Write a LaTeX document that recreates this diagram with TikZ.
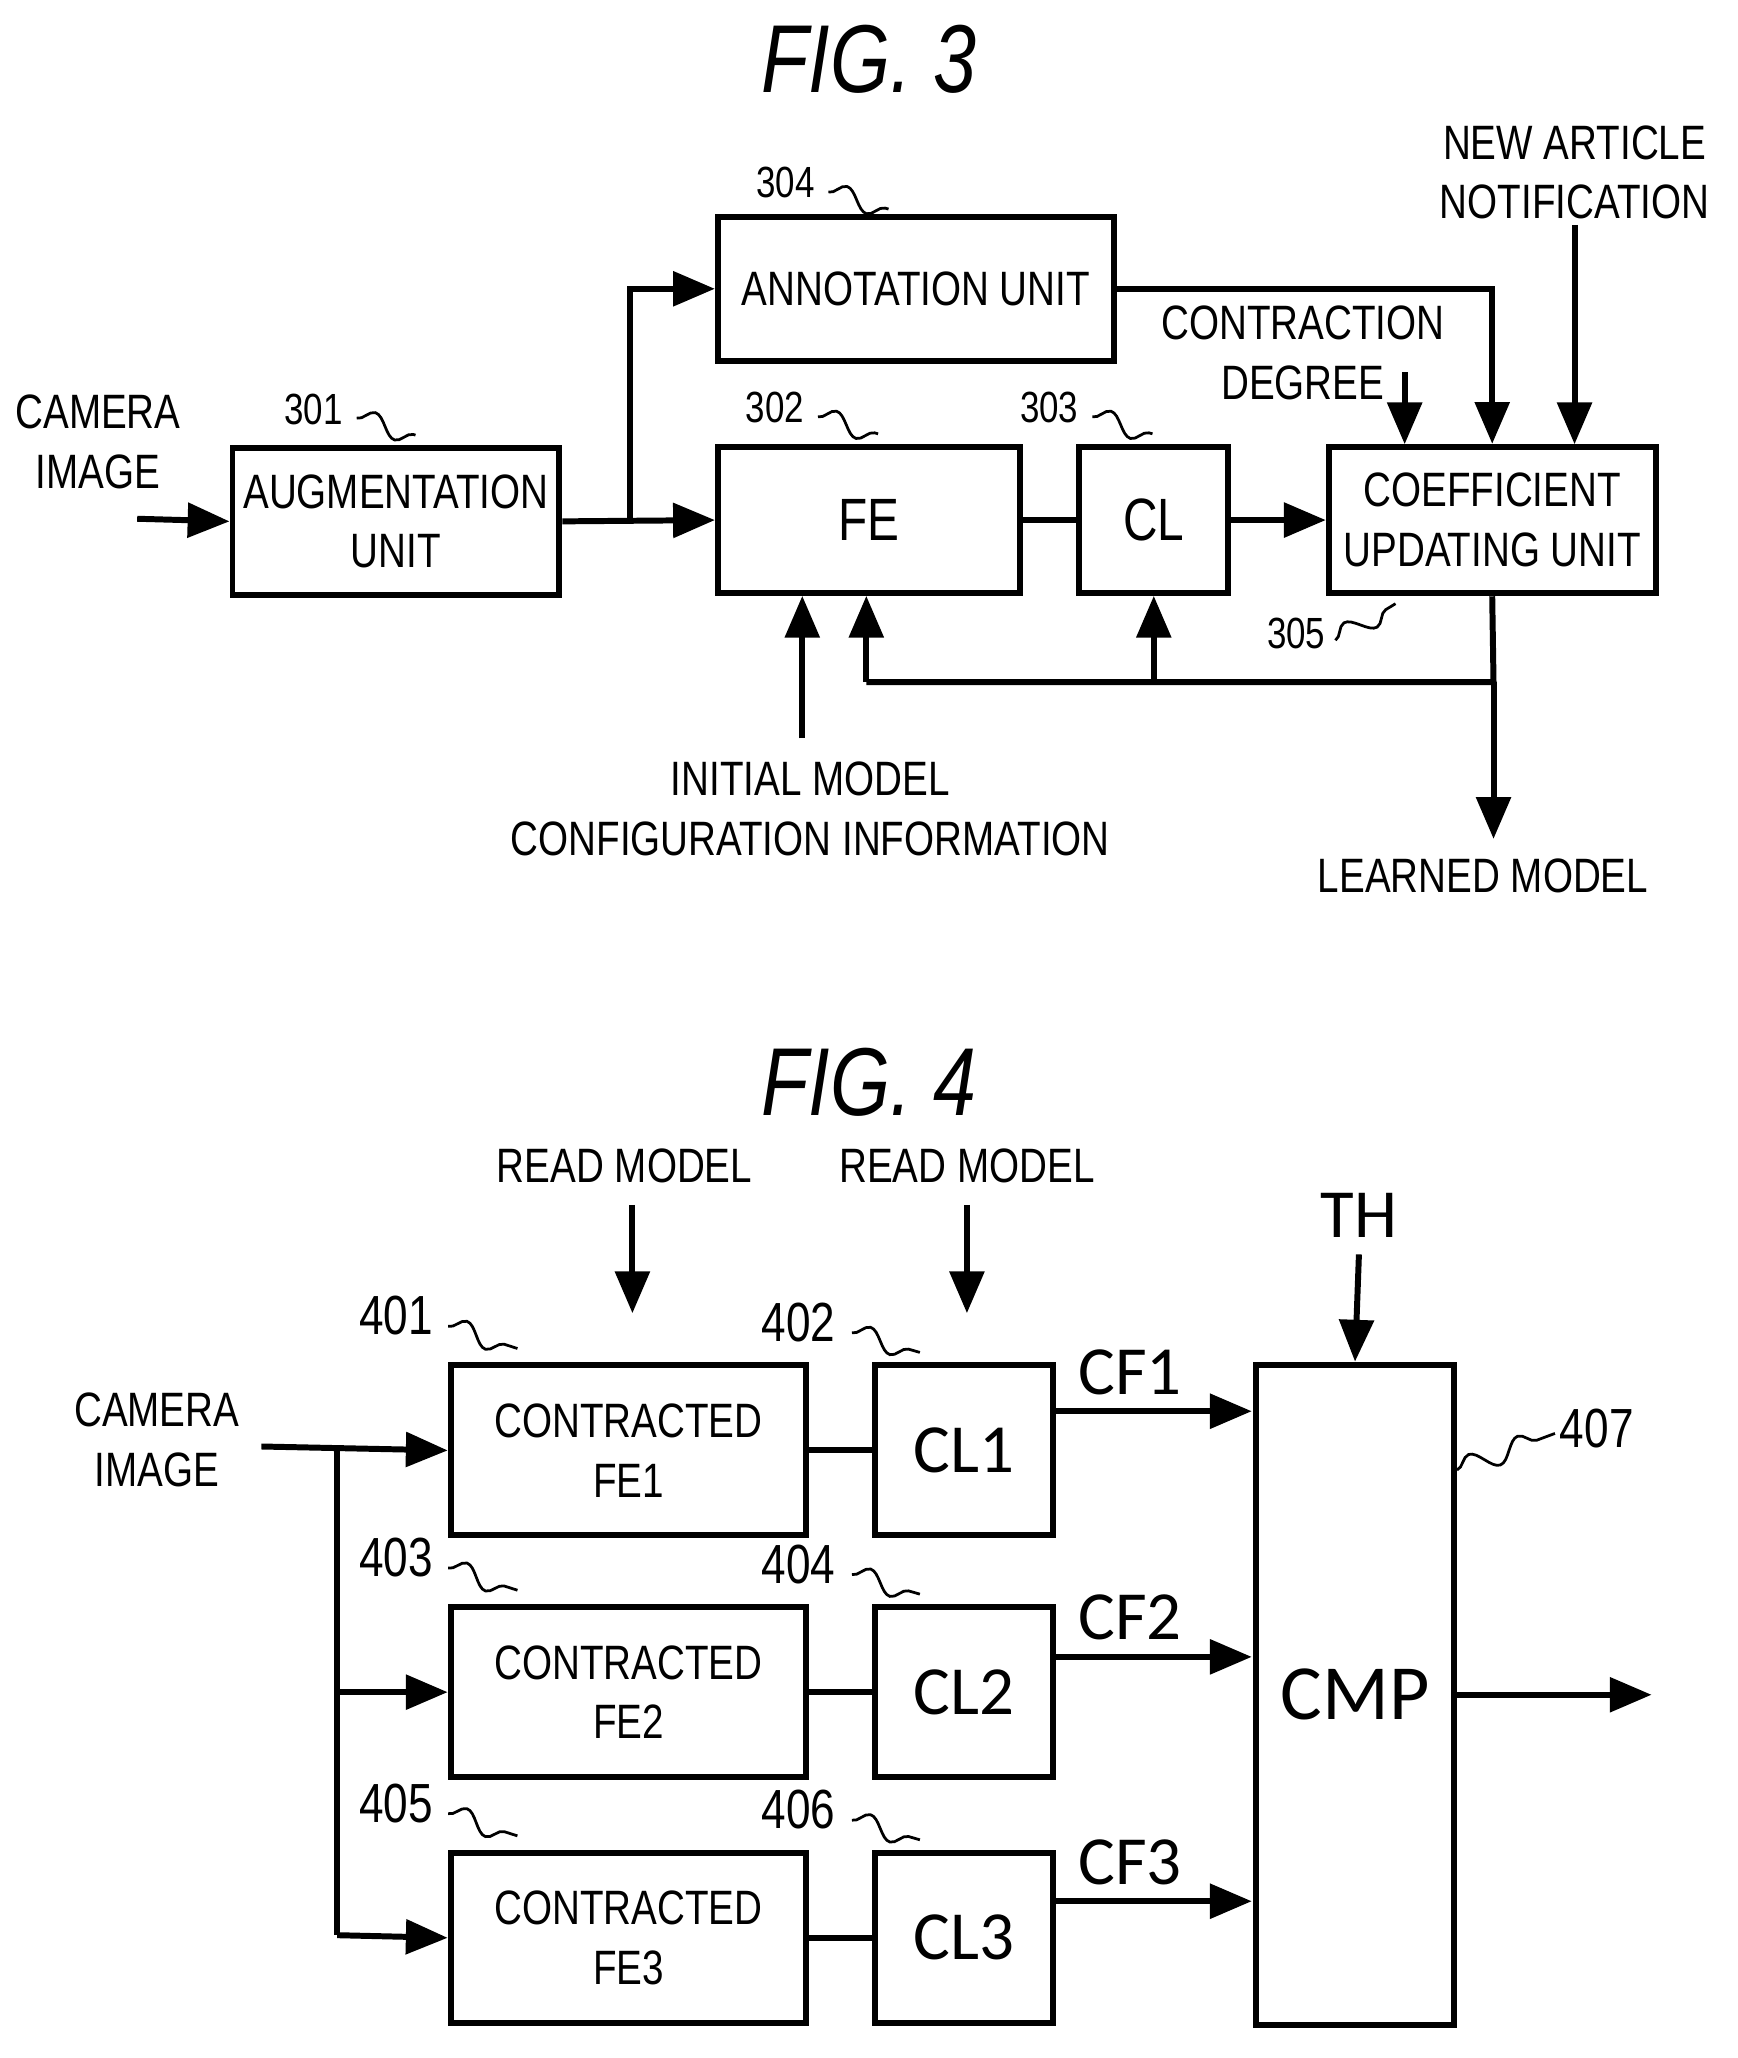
\documentclass[tikz,border=0pt]{standalone}
\usepackage{fontspec}
\setmainfont{Liberation Sans}[FakeStretch=0.8]
\newfontfamily\clfont{Carlito}
\usetikzlibrary{arrows.meta,decorations.pathmorphing}
\tikzset{
  box/.style={draw, line width=1.3pt, align=center, inner sep=0pt, font=\fontsize{10.5}{13}\selectfont},
  wire/.style={line width=1.3pt},
  arr/.style={wire, -{Triangle[length=3.2mm,width=2.6mm]}},
  lbl/.style={align=center, font=\fontsize{10.5}{13}\selectfont},
  num/.style={font=\fontsize{9.5}{12}\selectfont},
  big/.style={font=\clfont\fontsize{15}{18}\selectfont},
  title/.style={font=\itshape\fontsize{21}{24}\selectfont},
  squig/.style={decorate, decoration={snake, segment length=4mm, amplitude=0.8mm}, line width=0.6pt}
}
\begin{document}
\begin{tikzpicture}[x=0.01cm, y=-0.01cm]
\useasboundingbox (0,0) rectangle (1330,1575);

% FIG. 3
\node[title] (t3) at (665,45) {FIG. 3};
\node[box, minimum width=2.5cm, minimum height=1.12cm] (aug) at (303,399) {AUGMENTATION\\UNIT};
\node[box, minimum width=3.03cm, minimum height=1.1cm] (ann) at (701,221) {ANNOTATION UNIT};
\node[box, font=\fontsize{13}{15}\selectfont, minimum width=2.31cm, minimum height=1.12cm] (fe) at (665,398) {FE};
\node[box, font=\fontsize{13}{15}\selectfont, minimum width=1.14cm, minimum height=1.12cm] (cl) at (883,398) {CL};
\node[box, minimum width=2.5cm, minimum height=1.12cm] (coef) at (1142,398) {COEFFICIENT\\UPDATING UNIT};

\node[lbl] (cam) at (75,338) {CAMERA\\IMAGE};
\node[lbl] (cdeg) at (997,270) {CONTRACTION\\DEGREE};
\node[lbl] (news) at (1205,132) {NEW ARTICLE\\NOTIFICATION};
\node[lbl] (init) at (620,619) {INITIAL MODEL\\CONFIGURATION INFORMATION};
\node[lbl] (lm) at (1135,670) {LEARNED MODEL};

\node[num] (n301) at (240,313) {301};
\node[num] (n304) at (601,140) {304};
\node[num] (n302) at (593,312) {302};
\node[num] (n303) at (803,312) {303};
\node[num] (n305) at (992,485) {305};
\draw[squig] (273,320) -- (318,333);
\draw[squig] (634,147) -- (680,160);
\draw[squig] (626,319) -- (672,332);
\draw[squig] (836,319) -- (882,332);
\draw[squig] (1022,490) -- (1068,462);

\coordinate (camin) at (105,397);
\coordinate (br3) at (482,399);
\coordinate (fb) at (1143,522);
\coordinate (initin) at (614,565);
\draw[arr] (camin) -- (aug.west);
\draw[arr] (aug.east) -- (fe.west);
\draw[arr] (br3) |- (ann.west);
\draw[wire] (fe.east) -- (cl.west);
\draw[arr] (cl.east) -- (coef.west);
\draw[arr] (ann.east) -| (coef.north);
\draw[arr] (1075,285) -- (1075,340);
\draw[arr] (1205,172) -- (1205,340);
\draw[wire] (coef.south) -- (fb) -- (663,522);
\draw[arr] (663,522) -- (663,456);
\draw[arr] (883,522) -- (883,456);
\draw[arr] (fb) -- (1143,642);
\draw[arr] (initin) -- (614,456);

% FIG. 4
\node[title] (t4) at (665,828) {FIG. 4};
\foreach \i/\y/\a/\b in {1/1110/401/402, 2/1295/403/404, 3/1483/405/406} {
  \node[box, minimum width=2.72cm, minimum height=1.3cm] (fe\i) at (481,\y) {CONTRACTED\\FE\i};
  \node[box, big, minimum width=1.36cm, minimum height=1.3cm] (cl\i) at (738,\y) {CL\i};
  \draw[wire] (fe\i.east) -- (cl\i.west);
  \node[num, font=\fontsize{12}{14}\selectfont] (n\a) at (303,\y-103) {\a};
  \node[num, font=\fontsize{12}{14}\selectfont] (n\b) at (611,\y-98) {\b};
  \draw[squig] (343,\y-95) -- (396,\y-78);
  \draw[squig] (652,\y-90) -- (704,\y-75);
}
\node[box, font=\clfont\fontsize{17}{20}\selectfont, minimum width=1.52cm, minimum height=5.05cm] (cmp) at (1037,1297) {CMP};

\node[lbl] (cam4) at (120,1102) {CAMERA\\IMAGE};
\node[lbl] (rm1) at (478,892) {READ MODEL};
\node[lbl] (rm2) at (740,892) {READ MODEL};
\node[big] (th) at (1040,930) {TH};
\node[num, font=\fontsize{12}{14}\selectfont] (n407) at (1222,1093) {407};
\draw[squig] (1115,1125) -- (1190,1097);

\coordinate (cam4in) at (200,1107);
\coordinate (br4) at (258,1107);
\draw[arr] (cam4in) -- (fe1.west);
\draw[wire] (br4) -- (258,1481);
\draw[arr] (258,1295) -- (fe2.west);
\draw[arr] (258,1481) -- (fe3.west);
\draw[arr] (484,922) -- (484,1005);
\draw[arr] (740,922) -- (740,1005);
\draw[arr] (1040,960) -- (cmp.north);
\foreach \i/\y in {1/1080, 2/1268, 3/1455} {
  \draw[arr] (806,\y) -- (958,\y);
  \node[big] (cf\i) at (865,\y-30) {CF\i};
}
\coordinate (out) at (1264,1297);
\draw[arr] (cmp.east) -- (out);
\end{tikzpicture}
\end{document}
